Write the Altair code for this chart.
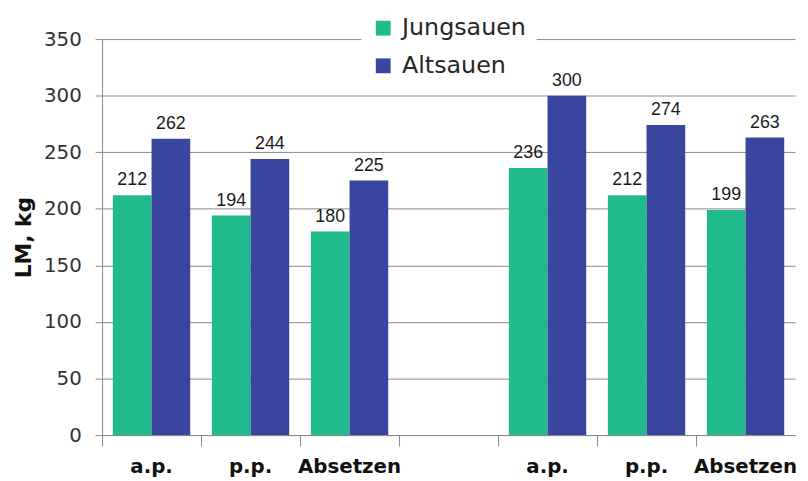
import altair as alt
import pandas as pd

# Category keys (one empty gap slot between the two groups) and their labels
cat_keys = ["g1_ap", "g1_pp", "g1_abs", "gap", "g2_ap", "g2_pp", "g2_abs"]
cat_labels = ["a.p.", "p.p.", "Absetzen", "", "a.p.", "p.p.", "Absetzen"]
data_keys = ["g1_ap", "g1_pp", "g1_abs", "g2_ap", "g2_pp", "g2_abs"]

series = ["Jungsauen", "Altsauen"]
jungsauen = [212, 194, 180, 236, 212, 199]
altsauen = [262, 244, 225, 300, 274, 263]
colors = ["#21BA8D", "#3A469D"]

y_ticks = [0, 50, 100, 150, 200, 250, 300, 350]

rows = []
for k, j, a in zip(data_keys, jungsauen, altsauen):
    rows.append({"cat": k, "series": "Jungsauen", "value": j})
    rows.append({"cat": k, "series": "Altsauen", "value": a})
df = pd.DataFrame(rows)

label_expr = ""
for k, l in zip(cat_keys, cat_labels):
    label_expr += f"datum.value == '{k}' ? '{l}' : "
label_expr += "''"

x = alt.X(
    "cat:N",
    scale=alt.Scale(domain=cat_keys, paddingInner=0, paddingOuter=0),
    axis=alt.Axis(
        title=None,
        labelExpr=label_expr,
        bandPosition=0,
        labelAngle=0,
        labelFont="DejaVu Sans",
        labelFontWeight="bold",
        labelFontSize=20,
        labelColor="#111111",
        labelPadding=11,
        labelBaseline="top",
        tickSize=11,
        tickColor="#8a8a8a",
        domainColor="#8a8a8a",
        grid=False,
    ),
)

x_off = alt.XOffset(
    "series:N",
    sort=series,
    scale=alt.Scale(domain=series, paddingInner=0, paddingOuter=0.28),
)

y = alt.Y(
    "value:Q",
    scale=alt.Scale(domain=[0, 350], nice=False),
    axis=alt.Axis(
        values=y_ticks,
        title="LM, kg",
        titleFont="DejaVu Sans",
        titleFontWeight="bold",
        titleFontSize=22,
        titleColor="#111111",
        titleAngle=-90,
        titleX=-79,
        titleY=200,
        titleAlign="center",
        titleBaseline="middle",
        labelFont="DejaVu Sans",
        labelFontSize=20,
        labelColor="#333333",
        labelPadding=14,
        tickSize=7,
        tickColor="#8a8a8a",
        domainColor="#8a8a8a",
        grid=True,
        gridColor="#8a8a8a",
        gridWidth=1,
    ),
)

bars = alt.Chart(df).mark_bar().encode(
    x=x,
    xOffset=x_off,
    y=y,
    color=alt.Color(
        "series:N",
        sort=series,
        scale=alt.Scale(domain=series, range=colors),
        legend=alt.Legend(
            title=None,
            orient="none",
            legendX=262,
            legendY=-33,
            padding=10,
            fillColor="white",
            symbolType="square",
            symbolSize=225,
            symbolStrokeWidth=0,
            labelFont="DejaVu Sans",
            labelFontSize=24,
            labelColor="#262626",
            labelOffset=7,
            rowPadding=14,
        ),
    ),
)

labels = alt.Chart(df).mark_text(
    baseline="alphabetic",
    dy=-10,
    font="Liberation Sans",
    fontSize=18,
    color="#1a1a1a",
).encode(
    x=x,
    xOffset=x_off,
    y=y,
    text=alt.Text("value:Q"),
)

chart = (
    alt.layer(bars, labels)
    .properties(
        width=700,
        height=400,
        autosize=alt.AutoSizeParams(type="none"),
        padding={"left": 95, "top": 29, "right": 5, "bottom": 44},
    )
    .configure_view(strokeWidth=0)
)

chart.save("out.html", embed_options={"renderer": "svg", "actions": False})
